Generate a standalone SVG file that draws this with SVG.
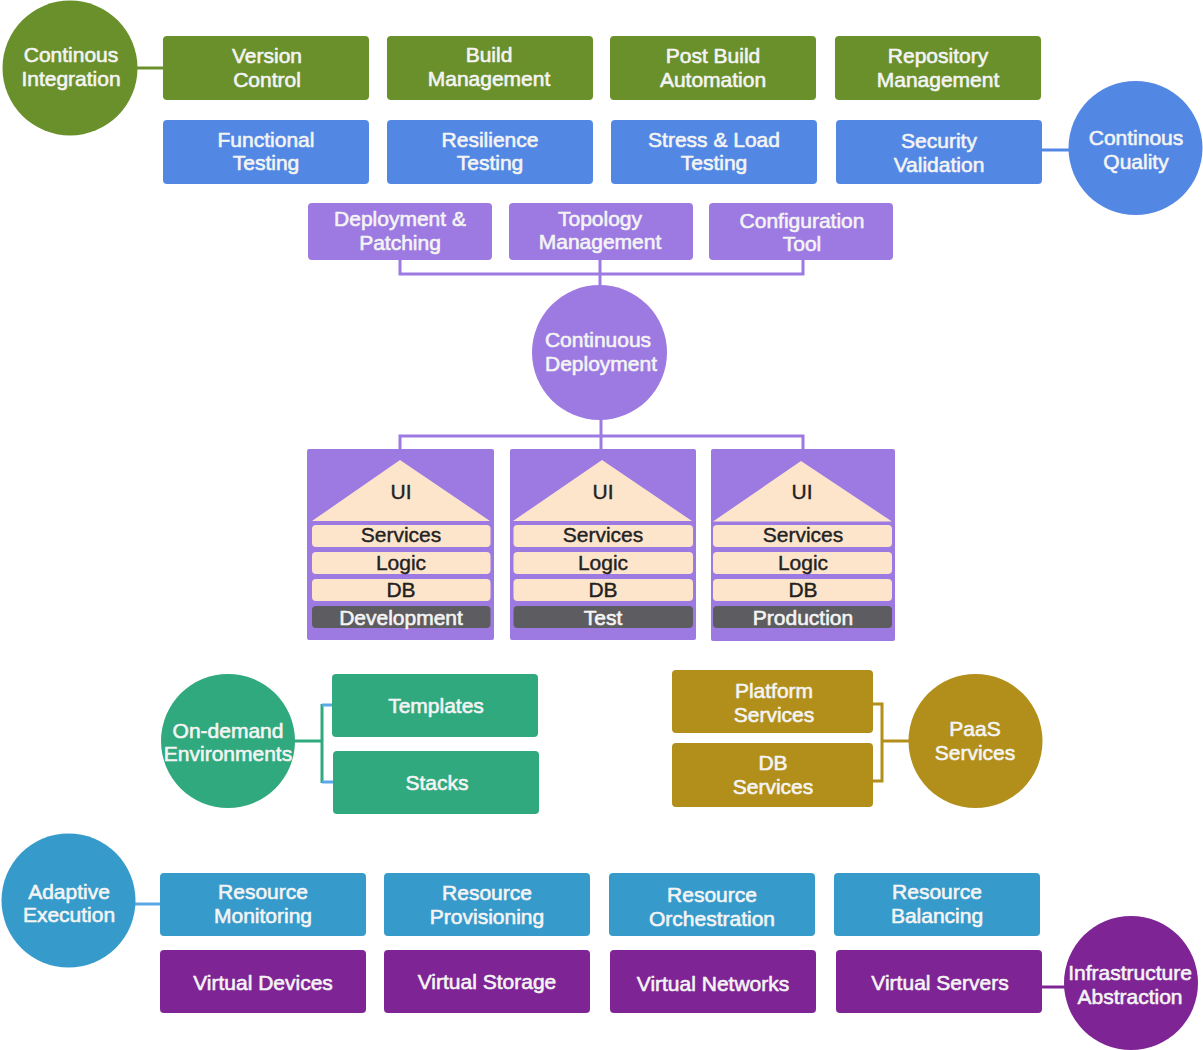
<svg xmlns="http://www.w3.org/2000/svg" width="1203" height="1050" viewBox="0 0 1203 1050">
<style>
text{font-family:"Liberation Sans",Arial,sans-serif;font-size:21px;text-anchor:middle;stroke-width:0.6px;stroke-linejoin:round}
.w{fill:#f4f4f4;stroke:#f4f4f4}
.k{fill:#222222;stroke:#222222;stroke-width:0.4px}
.ci{fill:#6a902c}
.cq{fill:#5288e4}
.cd{fill:#9d7ae2}
.od{fill:#2fa97d}
.ps{fill:#b28f1a}
.ae{fill:#369bcb}
.ia{fill:#7f2494}
.peach{fill:#fde5cc}
.dark{fill:#5d5c61}
.ln{fill:none;stroke-width:3}
</style>
<rect width="1203" height="1050" fill="#ffffff"/>
<g id="connectors">
<line class="ln" stroke="#6a902c" x1="137" y1="68" x2="164" y2="68"/>
<line class="ln" stroke="#5288e4" x1="1041" y1="150" x2="1069" y2="150"/>
<polyline class="ln" stroke="#9d7ae2" points="400,259 400,274 803,274 803,259"/>
<line class="ln" stroke="#9d7ae2" x1="600" y1="259" x2="600" y2="286"/>
<line class="ln" stroke="#9d7ae2" x1="601" y1="419" x2="601" y2="450"/>
<polyline class="ln" stroke="#9d7ae2" points="400,450 400,436 803,436 803,450"/>
<line class="ln" stroke="#2fa97d" x1="294" y1="741" x2="322" y2="741"/>
<line class="ln" stroke="#2fa97d" x1="322" y1="704" x2="322" y2="783"/>
<line class="ln" stroke="#5aa9e6" x1="322" y1="705" x2="333" y2="705"/>
<line class="ln" stroke="#5aa9e6" x1="322" y1="782" x2="333" y2="782"/>
<polyline class="ln" stroke="#b28f1a" points="872,704 882,704 882,781 872,781"/>
<line class="ln" stroke="#b28f1a" x1="882" y1="741" x2="909" y2="741"/>
<line class="ln" stroke="#5aa9e6" x1="135" y1="904" x2="161" y2="904"/>
<line class="ln" stroke="#7f2494" x1="1041" y1="987" x2="1065" y2="987"/>
</g>
<g id="continous-integration">
<circle class="ci" cx="70" cy="68" r="67.5"/>
<text class="w" x="71" y="62">Continous</text>
<text class="w" x="71" y="86">Integration</text>
</g>
<g id="version-control">
<rect class="ci" x="163" y="36" width="206" height="64" rx="4"/>
<text class="w" x="267" y="62.5">Version</text>
<text class="w" x="267" y="86.5">Control</text>
</g>
<g id="build-management">
<rect class="ci" x="387" y="36" width="206" height="64" rx="4"/>
<text class="w" x="489" y="62">Build</text>
<text class="w" x="489" y="86">Management</text>
</g>
<g id="post-build-automation">
<rect class="ci" x="610" y="36" width="206" height="64" rx="4"/>
<text class="w" x="713" y="63">Post Build</text>
<text class="w" x="713" y="87">Automation</text>
</g>
<g id="repository-management">
<rect class="ci" x="835" y="36" width="206" height="64" rx="4"/>
<text class="w" x="938" y="62.5">Repository</text>
<text class="w" x="938" y="86.5">Management</text>
</g>
<g id="functional-testing">
<rect class="cq" x="163" y="120" width="206" height="64" rx="4"/>
<text class="w" x="266" y="146.5">Functional</text>
<text class="w" x="266" y="170">Testing</text>
</g>
<g id="resilience-testing">
<rect class="cq" x="387" y="120" width="206" height="64" rx="4"/>
<text class="w" x="490" y="146.5">Resilience</text>
<text class="w" x="490" y="170">Testing</text>
</g>
<g id="stress-load-testing">
<rect class="cq" x="611" y="120" width="206" height="64" rx="4"/>
<text class="w" x="714" y="146.5">Stress &amp; Load</text>
<text class="w" x="714" y="170">Testing</text>
</g>
<g id="security-validation">
<rect class="cq" x="836" y="120" width="206" height="64" rx="4"/>
<text class="w" x="939" y="147.5">Security</text>
<text class="w" x="939" y="171.5">Validation</text>
</g>
<g id="continous-quality">
<circle class="cq" cx="1135.5" cy="148" r="67"/>
<text class="w" x="1136" y="145">Continous</text>
<text class="w" x="1136" y="169">Quality</text>
</g>
<g id="deployment-patching">
<rect class="cd" x="308" y="203" width="184" height="57" rx="4"/>
<text class="w" x="400" y="226">Deployment &amp;</text>
<text class="w" x="400" y="249.5">Patching</text>
</g>
<g id="topology-management">
<rect class="cd" x="509" y="203" width="184" height="57" rx="4"/>
<text class="w" x="600" y="225.5">Topology</text>
<text class="w" x="600" y="249">Management</text>
</g>
<g id="configuration-tool">
<rect class="cd" x="709" y="203" width="184" height="57" rx="4"/>
<text class="w" x="802" y="227.5">Configuration</text>
<text class="w" x="802" y="251">Tool</text>
</g>
<g id="continuous-deployment">
<circle class="cd" cx="599.5" cy="352.5" r="67.5"/>
<text class="w" x="598" y="347">Continuous</text>
<text class="w" x="601" y="370.5">Deployment</text>
</g>
<g id="env-development">
<rect class="cd" x="307" y="449" width="187" height="191" rx="2"/>
<polygon class="peach" points="400,460 490,521 312,521"/>
<text class="k" x="401" y="499">UI</text>
<rect class="peach" x="312" y="525" width="178.5" height="22" rx="4"/>
<text class="k" x="401" y="542">Services</text>
<rect class="peach" x="312" y="552" width="178.5" height="22" rx="4"/>
<text class="k" x="401" y="569.5">Logic</text>
<rect class="peach" x="312" y="579" width="178.5" height="22" rx="4"/>
<text class="k" x="401" y="597">DB</text>
<rect class="dark" x="312" y="606" width="178.5" height="22" rx="4"/>
<text class="w" x="401" y="624.5">Development</text>
</g>
<g id="env-test">
<rect class="cd" x="510" y="449" width="186" height="191" rx="2"/>
<polygon class="peach" points="602,460 692,521 513,521"/>
<text class="k" x="603" y="498.5">UI</text>
<rect class="peach" x="513.5" y="525" width="179.5" height="22" rx="4"/>
<text class="k" x="603" y="542">Services</text>
<rect class="peach" x="513.5" y="552" width="179.5" height="22" rx="4"/>
<text class="k" x="603" y="569.5">Logic</text>
<rect class="peach" x="513.5" y="579" width="179.5" height="22" rx="4"/>
<text class="k" x="603" y="597">DB</text>
<rect class="dark" x="513.5" y="606" width="179.5" height="22" rx="4"/>
<text class="w" x="603" y="624.5">Test</text>
</g>
<g id="env-production">
<rect class="cd" x="711" y="449" width="184" height="192" rx="2"/>
<polygon class="peach" points="801,461 892,521.5 713,521.5"/>
<text class="k" x="802" y="499">UI</text>
<rect class="peach" x="713" y="525" width="179" height="22" rx="4"/>
<text class="k" x="803" y="542">Services</text>
<rect class="peach" x="713" y="552" width="179" height="22" rx="4"/>
<text class="k" x="803" y="569.5">Logic</text>
<rect class="peach" x="713" y="579" width="179" height="22" rx="4"/>
<text class="k" x="803" y="597">DB</text>
<rect class="dark" x="713" y="606" width="179" height="22" rx="4"/>
<text class="w" x="803" y="624.5">Production</text>
</g>
<g id="on-demand-environments">
<circle class="od" cx="228" cy="741" r="67"/>
<text class="w" x="228" y="737.5">On-demand</text>
<text class="w" x="228" y="761">Environments</text>
</g>
<g id="templates">
<rect class="od" x="332" y="674" width="206" height="63" rx="4"/>
<text class="w" x="436" y="712.5">Templates</text>
</g>
<g id="stacks">
<rect class="od" x="333" y="751" width="206" height="63" rx="4"/>
<text class="w" x="437" y="790">Stacks</text>
</g>
<g id="platform-services">
<rect class="ps" x="672" y="670" width="201" height="63" rx="4"/>
<text class="w" x="774" y="697.5">Platform</text>
<text class="w" x="774" y="721.5">Services</text>
</g>
<g id="db-services">
<rect class="ps" x="672" y="743" width="201" height="64" rx="4"/>
<text class="w" x="773" y="770">DB</text>
<text class="w" x="773" y="793.5">Services</text>
</g>
<g id="paas-services">
<circle class="ps" cx="975.5" cy="741" r="67"/>
<text class="w" x="975" y="736">PaaS</text>
<text class="w" x="975" y="760">Services</text>
</g>
<g id="adaptive-execution">
<circle class="ae" cx="68.5" cy="900.5" r="67"/>
<text class="w" x="69" y="898.5">Adaptive</text>
<text class="w" x="69" y="922">Execution</text>
</g>
<g id="resource-monitoring">
<rect class="ae" x="160" y="873" width="206" height="63" rx="4"/>
<text class="w" x="263" y="899">Resource</text>
<text class="w" x="263" y="923">Monitoring</text>
</g>
<g id="resource-provisioning">
<rect class="ae" x="384" y="873" width="206" height="63" rx="4"/>
<text class="w" x="487" y="899.5">Resource</text>
<text class="w" x="487" y="923.5">Provisioning</text>
</g>
<g id="resource-orchestration">
<rect class="ae" x="609" y="873" width="206" height="63" rx="4"/>
<text class="w" x="712" y="901.5">Resource</text>
<text class="w" x="712" y="925.5">Orchestration</text>
</g>
<g id="resource-balancing">
<rect class="ae" x="834" y="873" width="206" height="63" rx="4"/>
<text class="w" x="937" y="899">Resource</text>
<text class="w" x="937" y="923">Balancing</text>
</g>
<g id="virtual-devices">
<rect class="ia" x="160" y="950" width="206" height="63" rx="4"/>
<text class="w" x="263" y="989.5">Virtual Devices</text>
</g>
<g id="virtual-storage">
<rect class="ia" x="384" y="950" width="206" height="63" rx="4"/>
<text class="w" x="487" y="988.5">Virtual Storage</text>
</g>
<g id="virtual-networks">
<rect class="ia" x="610" y="950" width="206" height="63" rx="4"/>
<text class="w" x="713" y="990.5">Virtual Networks</text>
</g>
<g id="virtual-servers">
<rect class="ia" x="836" y="950" width="206" height="63" rx="4"/>
<text class="w" x="940" y="989.5">Virtual Servers</text>
</g>
<g id="infrastructure-abstraction">
<circle class="ia" cx="1131" cy="983" r="67"/>
<text class="w" x="1130" y="979.5">Infrastructure</text>
<text class="w" x="1130" y="1003.5">Abstraction</text>
</g>
</svg>
